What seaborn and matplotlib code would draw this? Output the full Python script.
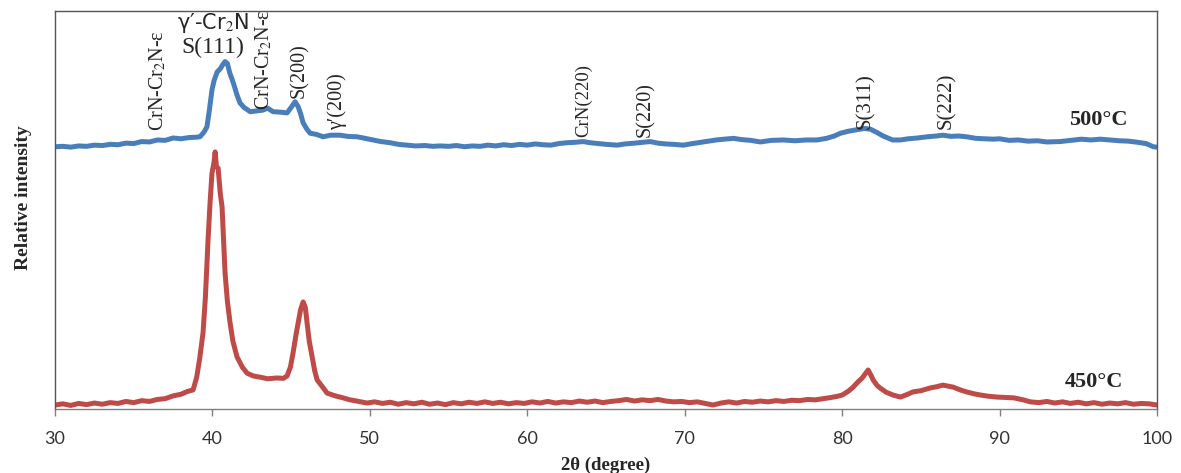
import matplotlib
matplotlib.use("Agg")
import matplotlib.pyplot as plt
import seaborn as sns
import pandas as pd

sns.set_style("ticks")
plt.rcParams["font.family"] = ["Liberation Serif", "DejaVu Serif"]
plt.rcParams["mathtext.fontset"] = "stix"

# 500°C pattern (blue)
theta_500 = [30, 30.5, 31, 31.5, 32, 32.5, 33, 33.5, 34, 34.5, 35, 35.5, 36, 36.5, 37, 37.5,
             38, 38.5, 39, 39.2, 39.45, 39.65, 39.8, 39.97, 40.1, 40.3, 40.5, 40.65, 40.8,
             40.95, 41.1, 41.25, 41.4, 41.55, 41.75, 42.0, 42.4, 42.8, 43.2, 43.5, 43.85,
             44.3, 44.74, 45.0, 45.25, 45.44, 45.6, 45.76, 46.0, 46.2, 46.6, 47.03, 47.5,
             48.1, 48.6, 49.2, 49.7, 50.2, 50.7, 51.3, 51.8, 52.36, 52.9, 53.5, 54.0, 54.46,
             55, 55.5, 56, 56.5, 57, 57.5, 58, 58.5, 59, 59.5, 60, 60.5, 61, 61.5, 62, 62.5,
             63, 63.55, 64, 64.5, 65, 65.7, 66.2, 66.8, 67.3, 67.8, 68.3, 68.8, 69.3, 69.9,
             70.5, 71, 71.5, 72, 72.5, 73.1, 73.6, 74.2, 74.8, 75.5, 76.25, 77, 77.7, 78.4,
             79.0, 79.5, 79.9, 80.4, 80.95, 81.4, 81.8, 82.2, 82.6, 83.2, 83.7, 84.2, 84.8,
             85.4, 86.0, 86.4, 86.9, 87.4, 87.9, 88.5, 89.0, 89.6, 90.0, 90.6, 91.2, 91.8,
             92.4, 93.0, 93.85, 94.5, 95.2, 95.8, 96.4, 97.0, 97.6, 98.2, 98.8, 99.3, 99.76, 100]
int_500 = [65.9, 66.0, 65.8, 66.1, 66.0, 66.3, 66.2, 66.5, 66.4, 66.8, 66.7, 67.2, 67.1, 67.6,
           67.5, 68.1, 67.9, 68.2, 68.3, 68.4, 69.5, 70.9, 75.0, 80.2, 82.5, 84.7, 85.5, 86.5,
           87.3, 86.8, 84.4, 82.8, 81.0, 79.0, 76.9, 75.8, 74.7, 74.9, 75.1, 75.6, 74.7, 74.6,
           74.4, 75.8, 77.2, 76.0, 74.2, 71.9, 70.3, 69.3, 69.0, 68.4, 68.8, 68.8, 68.5, 68.4,
           68.0, 67.6, 67.2, 66.9, 66.5, 66.3, 66.1, 66.2, 66.0, 66.1, 66.0, 66.2, 65.9, 66.1,
           66.0, 66.3, 66.1, 66.4, 66.2, 66.5, 66.3, 66.6, 66.4, 66.3, 66.7, 66.9, 67.0, 67.2,
           66.9, 66.7, 66.5, 66.3, 66.6, 66.8, 67.0, 67.2, 66.8, 66.6, 66.5, 66.3, 66.7, 67.0,
           67.3, 67.6, 67.8, 68.0, 67.7, 67.5, 67.1, 67.5, 67.6, 67.4, 67.6, 67.6, 68.0, 68.6,
           69.3, 69.8, 70.2, 70.5, 70.3, 69.5, 68.6, 67.6, 67.6, 67.9, 68.1, 68.4, 68.6, 68.8,
           68.5, 68.6, 68.4, 68.0, 67.9, 67.8, 67.9, 67.5, 67.6, 67.3, 67.4, 67.1, 67.2, 67.5,
           67.8, 67.6, 67.8, 67.6, 67.4, 67.3, 67.0, 66.7, 65.9, 65.8]

# 450°C pattern (red)
theta_450 = [30, 30.5, 31, 31.5, 32, 32.5, 33, 33.5, 34, 34.5, 35, 35.5, 36, 36.5, 37, 37.5,
             38, 38.4, 38.77, 39.0, 39.2, 39.4, 39.55, 39.72, 39.85, 39.97, 40.1, 40.17, 40.25,
             40.36, 40.5, 40.61, 40.8, 40.95, 41.12, 41.3, 41.56, 41.9, 42.2, 42.6, 43.02, 43.5,
             44.1, 44.5, 44.74, 44.95, 45.12, 45.3, 45.44, 45.6, 45.76, 45.9, 46.01, 46.15,
             46.33, 46.5, 46.65, 47.0, 47.28, 47.8, 48.3, 48.74, 49.3, 49.82, 50.3, 50.8, 51.3,
             51.8, 52.3, 52.8, 53.3, 53.8, 54.3, 54.8, 55.3, 55.8, 56.3, 56.8, 57.3, 57.8, 58.3,
             58.8, 59.3, 59.8, 60.3, 60.8, 61.3, 61.8, 62.3, 62.8, 63.3, 63.8, 64.3, 64.8, 65.3,
             65.8, 66.3, 66.8, 67.3, 67.8, 68.3, 68.8, 69.3, 69.8, 70.3, 70.8, 71.3, 71.8, 72.3,
             72.8, 73.3, 73.8, 74.3, 74.8, 75.3, 75.8, 76.3, 76.8, 77.3, 77.8, 78.3, 78.8, 79.3,
             79.7, 80.0, 80.4, 80.7, 81.0, 81.27, 81.5, 81.65, 81.8, 81.97, 82.2, 82.4, 82.8,
             83.24, 83.7, 84.1, 84.5, 85.0, 85.6, 86.0, 86.4, 86.8, 87.05, 87.5, 87.9, 88.4,
             88.8, 89.3, 89.85, 90.4, 90.9, 91.5, 91.95, 92.5, 93.0, 93.5, 94.0, 94.5, 95.0,
             95.5, 96.0, 96.5, 97.0, 97.5, 98.0, 98.5, 99.0, 99.5, 100]
int_450 = [1.0, 1.3, 0.9, 1.4, 1.1, 1.5, 1.2, 1.6, 1.4, 1.9, 1.6, 2.1, 1.9, 2.4, 2.6, 3.3,
           3.7, 4.4, 4.8, 8.0, 13.0, 19.1, 28.0, 42.5, 52.0, 59.3, 62.0, 64.6, 61.0, 60.5,
           54.0, 50.8, 34.2, 27.0, 21.6, 17.0, 13.1, 10.5, 9.0, 8.3, 8.0, 7.6, 7.8, 7.7, 8.3,
           10.5, 14.1, 18.5, 21.6, 25.0, 26.9, 25.5, 21.6, 17.0, 13.1, 9.5, 7.3, 5.5, 4.0,
           3.3, 2.8, 2.3, 1.9, 1.5, 1.8, 1.4, 1.7, 1.2, 1.6, 1.3, 1.7, 1.2, 1.5, 1.1, 1.6,
           1.3, 1.7, 1.4, 1.8, 1.4, 1.7, 1.3, 1.6, 1.4, 1.8, 1.5, 1.9, 1.5, 1.8, 1.6, 2.0,
           1.7, 2.0, 1.6, 1.9, 2.1, 2.4, 2.0, 2.3, 2.1, 2.4, 2.0, 1.8, 1.9, 1.6, 1.8, 1.4,
           1.0, 1.5, 1.8, 1.5, 1.9, 1.7, 2.0, 1.8, 2.1, 1.9, 2.2, 2.1, 2.4, 2.3, 2.6, 2.9,
           3.2, 3.5, 4.5, 5.5, 6.8, 7.8, 9.0, 9.8, 8.7, 7.3, 6.0, 5.3, 4.2, 3.5, 3.0, 3.6,
           4.3, 4.6, 5.3, 5.6, 6.0, 5.7, 5.5, 4.8, 4.3, 3.8, 3.5, 3.2, 3.0, 2.9, 2.8, 2.3,
           1.8, 1.6, 1.9, 1.5, 1.8, 1.4, 1.7, 1.3, 1.6, 1.2, 1.5, 1.3, 1.6, 1.2, 1.4, 1.3, 1.0]

# rotated peak labels: text, 2θ position, bottom of the text in data units
peak_labels = ["CrN-Cr$_2$N-ε", "CrN-Cr$_2$N-ε", "S(200)", "γ′(200)",
               "CrN(220)", "S(220)", "S(311)", "S(222)"]
peak_pos = [36.55, 43.3, 45.5, 47.9, 63.6, 67.5, 81.45, 86.6]
peak_base = [69.8, 75.2, 78.2, 70.2, 68.3, 68.3, 70.3, 70.3]
peak_size = [14.5, 14.5, 14.5, 14.5, 13.5, 14.5, 15, 15]

df500 = pd.DataFrame({"theta": theta_500, "intensity": int_500})
df450 = pd.DataFrame({"theta": theta_450, "intensity": int_450})

fig = plt.figure(figsize=(11.81, 4.73), dpi=100)
ax = fig.add_axes([0.0466, 0.1353, 0.9331, 0.8414])

sns.lineplot(data=df500, x="theta", y="intensity", color="#4a7ebb", lw=3.6, ax=ax)
sns.lineplot(data=df450, x="theta", y="intensity", color="#be4b48", lw=3.6, ax=ax)

ax.set_xlim(30, 100)
ax.set_ylim(0, 100)
ax.set_xticks(range(30, 101, 10))
ax.set_yticks([])
for lab in ax.get_xticklabels():
    lab.set_fontfamily("Lato")
    lab.set_fontsize(13)
    lab.set_color("#333333")
ax.tick_params(axis="x", direction="out", length=5, width=1, color="#808080", pad=11)
for s in ax.spines.values():
    s.set_color("#555555")
    s.set_linewidth(1)
ax.spines["bottom"].set_color("#808080")

ax.set_xlabel("2θ (degree)", fontsize=13.5, fontweight="bold", labelpad=7)
ax.set_ylabel("Relative intensity", fontsize=14, fontweight="bold")
ax.yaxis.set_label_coords(-0.021, 0.53)

for txt, x, yb, fs in zip(peak_labels, peak_pos, peak_base, peak_size):
    ax.text(x, yb, txt, rotation=90, ha="center", va="bottom", fontsize=fs)

ax.text(40.0, 97.0, "γ′-Cr$_2$N", ha="center", va="center", fontsize=15,
        family=["DejaVu Sans"])
ax.text(40.0, 90.8, "S(111)", ha="center", va="center", fontsize=17)

ax.text(96.3, 72.7, "500°C", ha="center", va="center", fontsize=16, fontweight="bold")
ax.text(96.0, 6.8, "450°C", ha="center", va="center", fontsize=16, fontweight="bold")

fig.savefig("out.png", dpi=100)
